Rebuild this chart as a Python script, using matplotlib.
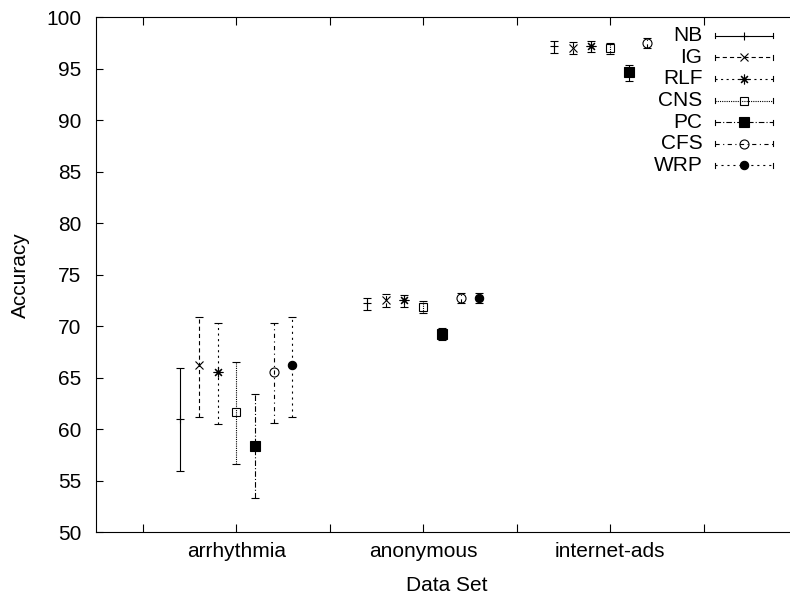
import numpy as np
import matplotlib
matplotlib.use("Agg")
import matplotlib.pyplot as plt
from matplotlib.lines import Line2D

plt.rcParams['font.family'] = ['Liberation Sans', 'DejaVu Sans']
plt.rcParams['lines.scale_dashes'] = False

datasets = ['arrhythmia', 'anonymous', 'internet-ads']
methods = ['NB', 'IG', 'RLF', 'CNS', 'PC', 'CFS', 'WRP']

NB_mean = [61.0, 72.2, 97.2]
NB_low = [55.9, 71.6, 96.5]
NB_high = [65.9, 72.7, 97.7]

IG_mean = [66.2, 72.5, 97.0]
IG_low = [61.2, 71.9, 96.4]
IG_high = [70.9, 73.1, 97.6]

RLF_mean = [65.5, 72.5, 97.2]
RLF_low = [60.5, 71.9, 96.6]
RLF_high = [70.3, 73.0, 97.7]

CNS_mean = [61.7, 71.9, 97.0]
CNS_low = [56.6, 71.3, 96.4]
CNS_high = [66.5, 72.4, 97.5]

PC_mean = [58.4, 69.2, 94.7]
PC_low = [53.3, 68.7, 93.8]
PC_high = [63.4, 69.8, 95.4]

CFS_mean = [65.5, 72.7, 97.5]
CFS_low = [60.6, 72.2, 97.0]
CFS_high = [70.3, 73.2, 98.0]

WRP_mean = [66.2, 72.7, np.nan]
WRP_low = [61.2, 72.2, np.nan]
WRP_high = [70.9, 73.2, np.nan]

means = [NB_mean, IG_mean, RLF_mean, CNS_mean, PC_mean, CFS_mean, WRP_mean]
lows = [NB_low, IG_low, RLF_low, CNS_low, PC_low, CFS_low, WRP_low]
highs = [NB_high, IG_high, RLF_high, CNS_high, PC_high, CFS_high, WRP_high]

styles = [
    dict(marker='+', ms=6.0, mfc='none', ls='-'),
    dict(marker='x', ms=6.0, mfc='none', ls=(0, (3.0, 2.2))),
    dict(marker=(8, 2, 0), ms=7.0, mfc='none', ls=(0, (1.5, 2.5))),
    dict(marker='s', ms=6.0, mfc='none', ls=(0, (0.8, 0.8))),
    dict(marker='s', ms=6.5, mfc='black', ls=(0, (4.0, 1.5, 0.8, 1.5))),
    dict(marker='o', ms=6.5, mfc='none', ls=(0, (3.0, 2.5, 0.8, 2.5))),
    dict(marker='o', ms=6.0, mfc='black', ls=(0, (1.5, 2.8))),
]

W, H = 790, 596
fig = plt.figure(figsize=(W / 100, H / 100), dpi=100)
ax = fig.add_axes([96 / W, 1 - 532 / H, (797 - 96) / W, (532 - 17.3) / H])

x = np.arange(1, len(datasets) + 1)
lw = 0.8
for i, m in enumerate(methods):
    st = styles[i]
    xm = x + (i - 3) * 0.1
    mu = np.array(means[i])
    lo = np.array(lows[i])
    hi = np.array(highs[i])
    cont = ax.errorbar(xm, mu, yerr=[mu - lo, hi - mu], fmt='none',
                       ecolor='black', elinewidth=lw, capsize=2.6,
                       capthick=lw)
    for bc in cont[2]:
        bc.set_linestyle(st['ls'])
    ax.plot(xm, mu, ls='none', marker=st['marker'], ms=st['ms'],
            mfc=st['mfc'], mec='black', mew=lw, color='black')

ax.set_xlim(0.25, 4.0)
ax.set_ylim(50, 100)
ticks = np.arange(0.5, 4.01, 0.5)
ax.set_xticks(ticks)
ax.set_xticklabels(['' if abs(t - round(t)) > 1e-6 or t < 1 or t > 3 else datasets[int(round(t)) - 1]
                    for t in ticks])
ax.set_yticks(np.arange(50, 101, 5))
ax.tick_params(axis='x', direction='in', length=5.5, width=lw, top=True,
               labelsize=15, pad=7)
ax.tick_params(axis='y', direction='in', length=5, width=lw, right=False,
               labelsize=15, pad=10.5)
for sp in ax.spines.values():
    sp.set_linewidth(lw)
ax.spines['right'].set_visible(False)

ax.set_xlabel('Data Set', fontsize=15, labelpad=11)
ax.set_ylabel('Accuracy', fontsize=15, labelpad=12)

# gnuplot-style key
for i, m in enumerate(methods):
    st = styles[i]
    yp = 1 - (35.7 + 21.6 * i) / H
    fig.text(702.5 / W, yp, m, ha='right', va='center', fontsize=15)
    x0, x1 = 715 / W, 773 / W
    fig.add_artist(Line2D([x0, x1], [yp, yp], transform=fig.transFigure,
                          color='black', lw=lw, ls=st['ls']))
    cap = 2.5 / H
    for xe in (x0, x1):
        fig.add_artist(Line2D([xe, xe], [yp - cap, yp + cap], transform=fig.transFigure,
                              color='black', lw=lw))
    fig.add_artist(Line2D([744 / W], [yp], transform=fig.transFigure,
                          ls='none', marker=st['marker'], ms=st['ms'],
                          mfc=st['mfc'], mec='black', mew=lw))

fig.savefig('out.png', dpi=100)
